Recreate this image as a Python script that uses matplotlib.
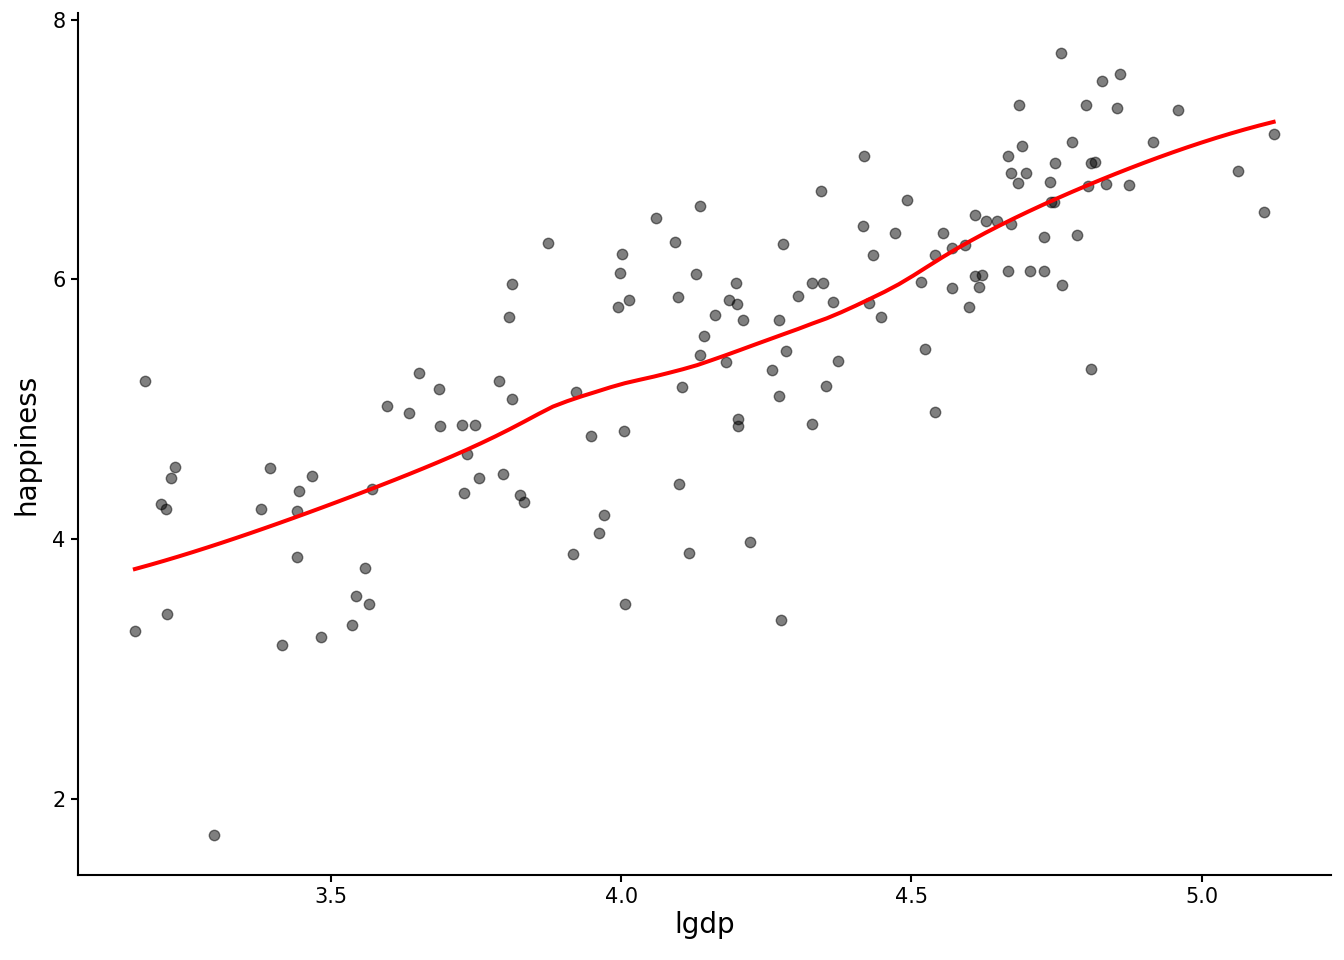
import numpy as np
import matplotlib
matplotlib.use("Agg")
import matplotlib.pyplot as plt

# lgdp / happiness values
lgdp = [3.162, 3.179, 3.207, 3.216, 3.224, 3.231, 3.217, 3.298, 3.379, 3.395,
        3.416, 3.441, 3.445, 3.441, 3.467, 3.483, 3.536, 3.543, 3.559, 3.566,
        3.571, 3.597, 3.634, 3.652, 3.686, 3.688, 3.726, 3.748, 3.734, 3.729,
        3.755, 3.790, 3.797, 3.812, 3.807, 3.812, 3.826, 3.833, 3.874, 3.922,
        3.917, 3.948, 3.962, 3.971, 3.995, 3.997, 4.002, 4.014, 4.005, 4.007,
        4.059, 4.093, 4.097, 4.100, 4.105, 4.116, 4.129, 4.136, 4.136, 4.143,
        4.162, 4.181, 4.186, 4.198, 4.200, 4.202, 4.202, 4.210, 4.222, 4.260,
        4.272, 4.272, 4.276, 4.279, 4.284, 4.305, 4.328, 4.328, 4.345, 4.347,
        4.353, 4.364, 4.374, 4.416, 4.419, 4.426, 4.434, 4.447, 4.471, 4.493,
        4.517, 4.524, 4.540, 4.541, 4.555, 4.569, 4.569, 4.593, 4.600, 4.610,
        4.609, 4.616, 4.622, 4.629, 4.648, 4.666, 4.667, 4.671, 4.672, 4.684,
        4.686, 4.690, 4.697, 4.705, 4.728, 4.729, 4.738, 4.741, 4.747, 4.745,
        4.759, 4.757, 4.776, 4.786, 4.800, 4.805, 4.809, 4.816, 4.810, 4.829,
        4.836, 4.855, 4.859, 4.874, 4.917, 4.959, 5.062, 5.107, 5.124]
happiness = [3.293, 5.219, 4.271, 4.233, 4.472, 4.556, 3.424, 1.721, 4.233, 4.549,
             3.185, 4.217, 4.371, 3.863, 4.487, 3.247, 3.339, 3.562, 3.778, 3.501,
             4.387, 5.026, 4.972, 5.280, 5.157, 4.872, 4.880, 4.880, 4.656, 4.356,
             4.472, 5.219, 4.502, 5.080, 5.712, 5.966, 4.341, 4.287, 6.282, 5.134,
             3.886, 4.795, 4.048, 4.186, 5.789, 6.051, 6.197, 5.843, 4.834, 3.501,
             6.475, 6.290, 5.866, 4.425, 5.173, 3.894, 6.043, 6.567, 5.419, 5.565,
             5.727, 5.365, 5.843, 5.974, 5.812, 4.926, 4.872, 5.689, 3.978, 5.304,
             5.689, 5.103, 3.378, 6.274, 5.450, 5.874, 4.888, 5.974, 6.683, 5.974,
             5.180, 5.827, 5.373, 6.413, 6.952, 5.820, 6.190, 5.712, 6.359, 6.613,
             5.982, 5.465, 4.980, 6.190, 6.359, 6.243, 5.935, 6.267, 5.789, 6.498,
             6.028, 5.943, 6.036, 6.451, 6.451, 6.066, 6.952, 6.821, 6.428, 6.744,
             7.345, 7.029, 6.821, 6.066, 6.328, 6.066, 6.752, 6.598, 6.898, 6.598,
             5.958, 7.746, 7.060, 6.344, 7.345, 6.721, 6.898, 6.906, 5.311, 7.530,
             6.737, 7.322, 7.584, 6.729, 7.060, 7.307, 6.837, 6.521, 7.122]

x = np.array(lgdp)
y = np.array(happiness)


def loess(x, y, xs, span=0.75):
    # local quadratic fit with tricube weights, like R's loess defaults
    q = int(np.floor(len(x) * span))
    out = []
    for x0 in xs:
        d = np.abs(x - x0)
        h = np.sort(d)[q - 1]
        w = np.clip(1 - (d / h) ** 3, 0, None) ** 3
        coef = np.polyfit(x, y, 2, w=np.sqrt(w))
        out.append(np.polyval(coef, x0))
    return np.array(out)


xs = np.linspace(x.min(), x.max(), 80)
ys = loess(x, y, xs)

fig = plt.figure(figsize=(13.44, 9.6), dpi=100)
ax = fig.add_axes([0.058, 0.089, 0.932, 0.897])

ax.scatter(x, y, s=56, c='black', alpha=0.5, edgecolors='black', linewidths=1.0, zorder=2)
ax.plot(xs, ys, color='red', lw=2.9, zorder=3)

xr = x.max() - x.min()
yr = y.max() - y.min()
ax.set_xlim(x.min() - 0.05 * xr, x.max() + 0.05 * xr)
ax.set_ylim(y.min() - 0.05 * yr, y.max() + 0.05 * yr)
ax.set_xticks([3.5, 4.0, 4.5, 5.0])
ax.set_yticks([2, 4, 6, 8])

for s in ['top', 'right']:
    ax.spines[s].set_visible(False)
for s in ['left', 'bottom']:
    ax.spines[s].set_linewidth(1.5)
ax.tick_params(length=5, width=1.5, labelsize=15, colors='black', pad=4)

ax.set_xlabel('lgdp', fontsize=20, labelpad=3)
ax.set_ylabel('happiness', fontsize=20, labelpad=8)

fig.savefig('out.png', dpi=100)
